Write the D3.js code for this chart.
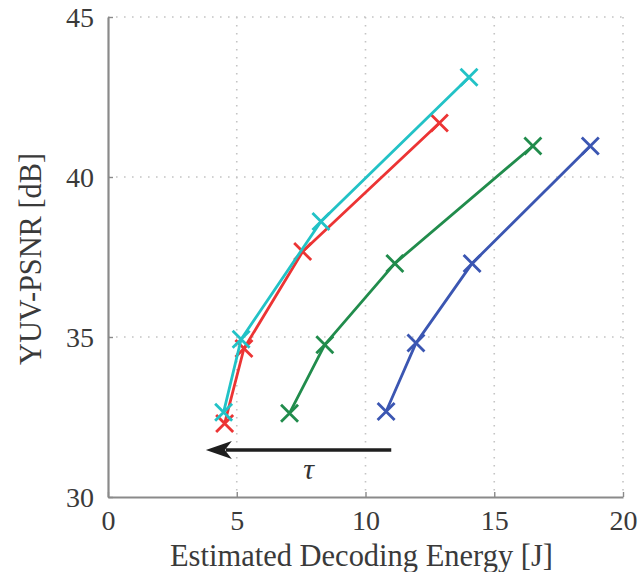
<!DOCTYPE html>
<html>
<head>
<meta charset="utf-8">
<script src="https://cdn.jsdelivr.net/npm/d3@7"></script>
<style>
  html, body { margin: 0; padding: 0; background: #fff; }
  svg { display: block; }
</style>
</head>
<body>
<svg id="chart" width="641" height="572"></svg>
<script>
// ---- data ----
const xTicks = [0, 5, 10, 15, 20];
const yTicks = [30, 35, 40, 45];
const seriesNames = ["blue", "green", "red", "cyan"];
const seriesColors = ["#3b56b2", "#218c4c", "#ec3434", "#22c2c6"];
const blueX  = [10.80, 11.96, 14.14, 18.73];
const blueY  = [32.67, 34.81, 37.30, 40.97];
const greenX = [7.05, 8.42, 11.14, 16.50];
const greenY = [32.62, 34.76, 37.30, 40.97];
const redX   = [4.53, 5.28, 7.56, 12.87];
const redY   = [32.30, 34.64, 37.67, 41.69];
const cyanX  = [4.49, 5.17, 8.27, 14.02];
const cyanY  = [32.65, 34.93, 38.61, 43.12];
const arrowFrom = [11.0, 31.47];
const arrowTo   = [3.80, 31.47];
const tauPos    = [7.79, 30.84];
const xLabel = "Estimated Decoding Energy [J]";
const yLabel = "YUV-PSNR [dB]";

const allX = [blueX, greenX, redX, cyanX];
const allY = [blueY, greenY, redY, cyanY];

(function () {
// ---- layout ----
const svg = d3.select("#chart");
const pL = 108, pR = 623, pT = 17, pB = 497;
const x = d3.scaleLinear().domain([0, 20]).range([pL, pR]);
const y = d3.scaleLinear().domain([30, 45]).range([pB, pT]);
const font = "'Liberation Serif', 'Times New Roman', serif";
const textColor = "#3a3a3a";

// grid
const grid = svg.append("g");
grid.selectAll("line.gx").data(xTicks.filter(d => d > 0)).join("line")
  .attr("x1", d => x(d)).attr("x2", d => x(d))
  .attr("y1", pT).attr("y2", pB)
  .attr("stroke", "#c4c4c4").attr("stroke-width", 1.6)
  .attr("stroke-dasharray", "1.6,6.4");
grid.selectAll("line.gy").data(yTicks.filter(d => d > 30)).join("line")
  .attr("x1", pL).attr("x2", pR)
  .attr("y1", d => y(d)).attr("y2", d => y(d))
  .attr("stroke", "#c4c4c4").attr("stroke-width", 1.6)
  .attr("stroke-dasharray", "1.6,6.4");

// axes
const xAxis = d3.axisBottom(x).tickValues(xTicks).tickSizeInner(-5).tickSizeOuter(0).tickPadding(13);
const yAxis = d3.axisLeft(y).tickValues(yTicks).tickSizeInner(-5).tickSizeOuter(0).tickPadding(14);
const gx = svg.append("g").attr("transform", `translate(0,${pB})`).call(xAxis);
const gy = svg.append("g").attr("transform", `translate(${pL},0)`).call(yAxis);
[gx, gy].forEach(g => {
  g.select(".domain").attr("stroke", "#8a8a8a").attr("stroke-width", 2.2);
  g.selectAll(".tick line").attr("stroke", "#8a8a8a").attr("stroke-width", 1.4);
  g.selectAll(".tick text").attr("fill", textColor).attr("font-family", font).attr("font-size", 28);
});
gx.selectAll(".tick text").attr("dy", "0.72em");
gy.selectAll(".tick text").attr("dy", "0.34em");

// series lines + markers
const line = d3.line().x(d => x(d[0])).y(d => y(d[1]));
allX.forEach((xs, i) => {
  const pts = xs.map((v, j) => [v, allY[i][j]]);
  svg.append("path").datum(pts).attr("d", line)
    .attr("fill", "none").attr("stroke", seriesColors[i]).attr("stroke-width", 2.8)
    .attr("stroke-linejoin", "round");
  const s = 8.5;
  svg.append("g").selectAll("path").data(pts).join("path")
    .attr("d", d => {
      const cx = x(d[0]), cy = y(d[1]);
      return `M${cx - s},${cy - s}L${cx + s},${cy + s}M${cx - s},${cy + s}L${cx + s},${cy - s}`;
    })
    .attr("stroke", seriesColors[i]).attr("stroke-width", 2.8).attr("fill", "none");
});

// arrow
const ax1 = x(arrowFrom[0]), ax2 = x(arrowTo[0]), ay = y(arrowFrom[1]);
const headL = 26, headW = 9;
svg.append("line").attr("x1", ax1).attr("x2", ax2 + headL - 6).attr("y1", ay).attr("y2", ay)
  .attr("stroke", "#1e1e1e").attr("stroke-width", 3.4);
svg.append("path")
  .attr("d", `M${ax2},${ay} L${ax2 + headL},${ay - headW} L${ax2 + headL - 7},${ay} L${ax2 + headL},${ay + headW} Z`)
  .attr("fill", "#1e1e1e");
svg.append("text").attr("x", x(tauPos[0])).attr("y", y(tauPos[1]))
  .attr("text-anchor", "middle").attr("dy", "0.3em")
  .attr("font-family", font).attr("font-style", "italic").attr("font-size", 30)
  .attr("fill", "#333").text("τ");

// axis labels
svg.append("text").attr("x", (170 + 553) / 2).attr("y", 566)
  .attr("text-anchor", "middle").attr("font-family", font).attr("font-size", 31)
  .attr("fill", textColor)
  .attr("textLength", 383).attr("lengthAdjust", "spacingAndGlyphs")
  .text(xLabel);
svg.append("text").attr("transform", `translate(41,${(153 + 365) / 2}) rotate(-90)`)
  .attr("text-anchor", "middle").attr("font-family", font).attr("font-size", 31)
  .attr("fill", textColor)
  .attr("textLength", 212).attr("lengthAdjust", "spacingAndGlyphs")
  .text(yLabel);
})();
</script>
</body>
</html>
